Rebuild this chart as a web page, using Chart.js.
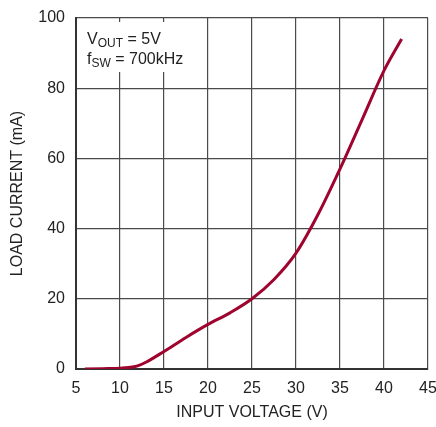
<!DOCTYPE html>
<html>
<head>
<meta charset="utf-8">
<script src="https://cdn.jsdelivr.net/npm/chart.js@4"></script>
<style>
  body { margin: 0; background: #fff; }
  canvas { display: block; }
</style>
</head>
<body>
<canvas id="loadchart" width="436" height="427"></canvas>
<script>
// input voltage (V) vs load current (mA)
var voltage = [6, 8, 10, 11, 12, 13, 15, 17.5, 20, 22.5, 25, 27.5, 30, 32.5, 35, 37.5, 40, 42];
var current = [0, 0.1, 0.2, 0.4, 0.9, 2, 5, 9, 12.7, 16, 20, 25.5, 33, 44, 57, 71, 85, 94];
var xTicks = [5, 10, 15, 20, 25, 30, 35, 40, 45];
var yTicks = [0, 20, 40, 60, 80, 100];

var FONT = "'Liberation Sans', Arial, sans-serif";
var GRID = '#4a4a4a';

var points = voltage.map(function(v, i) { return { x: v, y: current[i] }; });

// white box with the operating conditions
var notePlugin = {
  id: 'note',
  beforeDatasetsDraw: function(chart) {
    var ctx = chart.ctx;
    ctx.save();
    ctx.fillStyle = '#fff';
    ctx.fillRect(80, 22, 118, 50);
    ctx.fillStyle = '#222';
    ctx.textBaseline = 'alphabetic';
    ctx.font = '16px ' + FONT;
    var x = 87;
    ctx.fillText('V', x, 44);
    var w = ctx.measureText('V').width;
    ctx.font = '12px ' + FONT;
    ctx.fillText('OUT', x + w, 47);
    var w2 = ctx.measureText('OUT').width;
    ctx.font = '16px ' + FONT;
    ctx.fillText(' = 5V', x + w + w2, 44);

    ctx.fillText('f', x, 64);
    w = ctx.measureText('f').width;
    ctx.font = '12px ' + FONT;
    ctx.fillText('SW', x + w, 67);
    w2 = ctx.measureText('SW').width;
    ctx.font = '16px ' + FONT;
    ctx.fillText(' = 700kHz', x + w + w2, 64);
    ctx.restore();
  }
};

var chart = new Chart(document.getElementById('loadchart'), {
  type: 'scatter',
  data: {
    datasets: [{
      data: points,
      showLine: true,
      borderColor: '#9e042e',
      borderWidth: 3,
      pointRadius: 0,
      cubicInterpolationMode: 'monotone',
      fill: false
    }]
  },
  options: {
    responsive: false,
    animation: false,
    layout: { padding: { top: 18, right: 8, left: 0, bottom: 0 } },
    plugins: {
      legend: { display: false },
      tooltip: { enabled: false }
    },
    scales: {
      x: {
        type: 'linear',
        min: 5, max: 45,
        afterBuildTicks: function(s) { s.ticks = xTicks.map(function(v) { return { value: v }; }); },
        afterFit: function(s) { s.height = 58; s.paddingRight = 0; s.paddingLeft = 0; },
        grid: { color: GRID, lineWidth: 1.2, drawTicks: false },
        border: { color: '#333', width: 2 },
        ticks: { color: '#222', font: { family: FONT, size: 16 }, padding: 10, maxRotation: 0 },
        title: { display: true, text: 'INPUT VOLTAGE (V)', color: '#222', font: { family: FONT, size: 16 }, padding: { top: 0, bottom: 5 } }
      },
      y: {
        min: 0, max: 100,
        afterBuildTicks: function(s) { s.ticks = yTicks.map(function(v) { return { value: v }; }); },
        afterFit: function(s) { s.width = 76; s.paddingTop = 0; s.paddingBottom = 0; },
        grid: { color: GRID, lineWidth: 1.2, drawTicks: false },
        border: { color: '#333', width: 2 },
        ticks: { color: '#222', font: { family: FONT, size: 16 }, padding: 11 },
        title: { display: true, text: 'LOAD CURRENT (mA)', color: '#222', font: { family: FONT, size: 16 }, padding: { top: 8, bottom: 0 } }
      }
    }
  },
  plugins: [notePlugin]
});
</script>
</body>
</html>
